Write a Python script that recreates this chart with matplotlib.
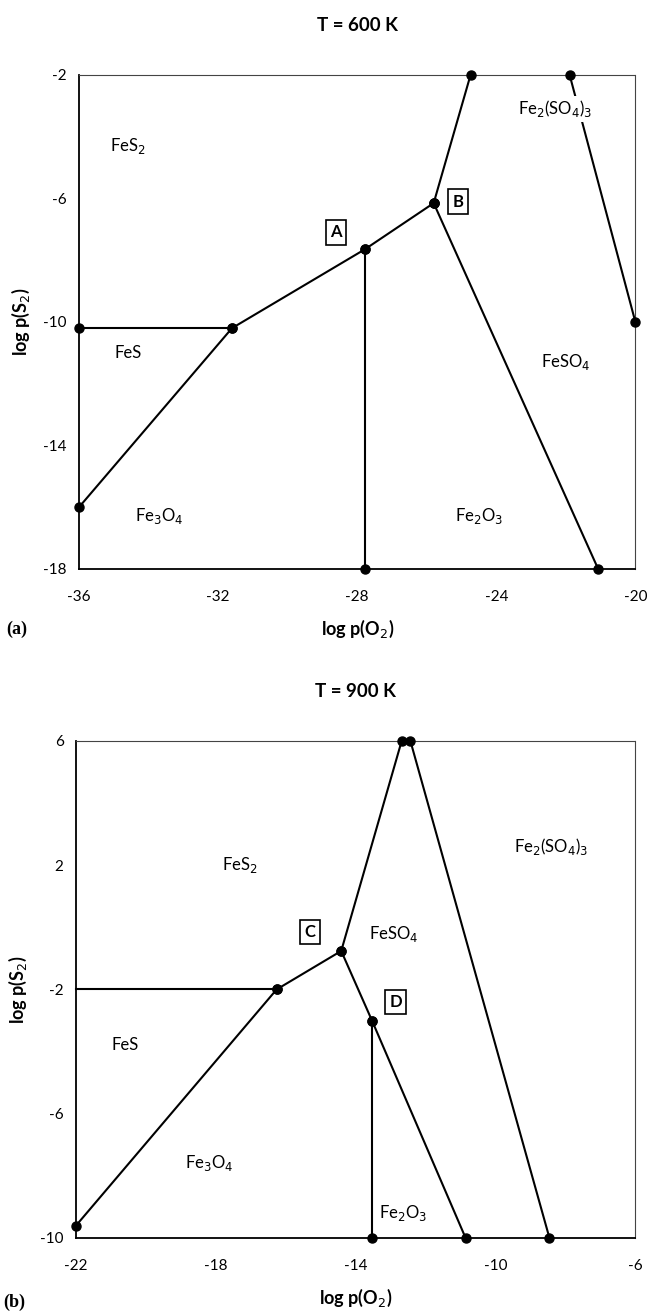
import matplotlib
matplotlib.use("Agg")
import matplotlib.pyplot as plt

plt.rcParams["font.family"] = ["Lato", "DejaVu Sans"]

# ---- panel (a): T = 600 K ----
a_xticks = [-36, -32, -28, -24, -20]
a_yticks = [-18, -14, -10, -6, -2]
a_lines = [
    ([-36, -31.6], [-10.2, -10.2]),
    ([-36, -31.6, -27.77, -25.8], [-16.0, -10.2, -7.64, -6.15]),
    ([-27.77, -27.77], [-18, -7.64]),
    ([-25.8, -24.74], [-6.15, -2]),
    ([-25.8, -21.07], [-6.15, -18]),
    ([-21.89, -20], [-2, -10.0]),
]
a_phases = ["FeS$_2$", "FeS", "Fe$_3$O$_4$", "Fe$_2$O$_3$", "FeSO$_4$", "Fe$_2$(SO$_4$)$_3$"]
a_phase_x = [-34.6, -34.6, -33.7, -24.5, -22.0, -22.3]
a_phase_y = [-4.3, -11.0, -16.3, -16.3, -11.3, -3.1]
a_boxes = ["A", "B"]
a_box_x = [-28.6, -25.1]
a_box_y = [-7.1, -6.1]

# ---- panel (b): T = 900 K ----
b_xticks = [-22, -18, -14, -10, -6]
b_yticks = [-10, -6, -2, 2, 6]
b_lines = [
    ([-22, -16.26], [-2, -2]),
    ([-22, -16.26, -14.41, -12.68], [-9.6, -2, -0.76, 6]),
    ([-14.41, -13.53, -10.85], [-0.76, -3.0, -10]),
    ([-13.53, -13.53], [-10, -3.0]),
    ([-12.43, -8.45], [6, -10]),
]
b_phases = ["FeS$_2$", "FeS", "Fe$_3$O$_4$", "Fe$_2$O$_3$", "FeSO$_4$", "Fe$_2$(SO$_4$)$_3$"]
b_phase_x = [-17.3, -20.6, -18.2, -12.65, -12.9, -8.4]
b_phase_y = [2.0, -3.8, -7.6, -9.2, -0.2, 2.6]
b_boxes = ["C", "D"]
b_box_x = [-15.3, -12.85]
b_box_y = [-0.15, -2.4]

fig = plt.figure(figsize=(6.5, 13.11), dpi=100)
ax_a = fig.add_axes([0.1215, 0.566, 0.856, 0.3768])
ax_b = fig.add_axes([0.117, 0.0557, 0.86, 0.3791])


def draw_panel(ax, lines, xticks, yticks, phases, px, py, boxes, bx, by, title, tag, tag_y):
    for xs, ys in lines:
        ax.plot(xs, ys, color="black", lw=1.5, marker="o", ms=6.5, clip_on=False, zorder=3)
    ax.set_xlim(xticks[0], xticks[-1])
    ax.set_ylim(yticks[0], yticks[-1])
    ax.set_xticks(xticks)
    ax.set_yticks(yticks)
    ax.set_xticklabels([str(t) for t in xticks])
    ax.set_yticklabels([str(t) for t in yticks])
    ax.tick_params(axis="x", length=0, labelsize=11, pad=15)
    ax.tick_params(axis="y", length=0, labelsize=11, pad=9)
    for s in ["left", "bottom"]:
        ax.spines[s].set_linewidth(1.3)
    for s in ["top", "right"]:
        ax.spines[s].set_linewidth(0.8)
        ax.spines[s].set_linestyle((0, (2, 1)))
        ax.spines[s].set_color("#444444")
    for name, x, y in zip(phases, px, py):
        # labels sit on a white ground, so a boundary passing through is hidden
        ax.text(x, y, name, ha="center", va="center", fontsize=12, zorder=4,
                bbox=dict(boxstyle="square,pad=0.15", fc="white", ec="none"))
    for name, x, y in zip(boxes, bx, by):
        ax.text(x, y, name, ha="center", va="center", fontsize=12, fontweight="bold", zorder=4,
                bbox=dict(boxstyle="square,pad=0.25", fc="white", ec="black", lw=1.2))
    ax.set_title(title, fontsize=13.5, fontweight="bold", pad=32)
    ax.set_xlabel("log p(O$_2$)", fontsize=13, fontweight="bold", labelpad=10)
    ax.set_ylabel("log p(S$_2$)", fontsize=13, fontweight="bold", labelpad=8)
    ax.text(-0.13, tag_y, tag, transform=ax.transAxes, fontsize=13, fontweight="bold",
            family="Liberation Serif", va="center")


draw_panel(ax_a, a_lines, a_xticks, a_yticks, a_phases, a_phase_x, a_phase_y,
           a_boxes, a_box_x, a_box_y, "T = 600 K", "(a)", -0.123)
draw_panel(ax_b, b_lines, b_xticks, b_yticks, b_phases, b_phase_x, b_phase_y,
           b_boxes, b_box_x, b_box_y, "T = 900 K", "(b)", -0.129)

# no dot where the FeS2/FeS line meets the left axis in (b)
ax_b.lines[0].set_marker("")
ax_b.plot([b_lines[0][0][1]], [b_lines[0][1][1]], "o", color="black", ms=6.5, zorder=3)

fig.savefig("out.png", dpi=100, facecolor="white")
